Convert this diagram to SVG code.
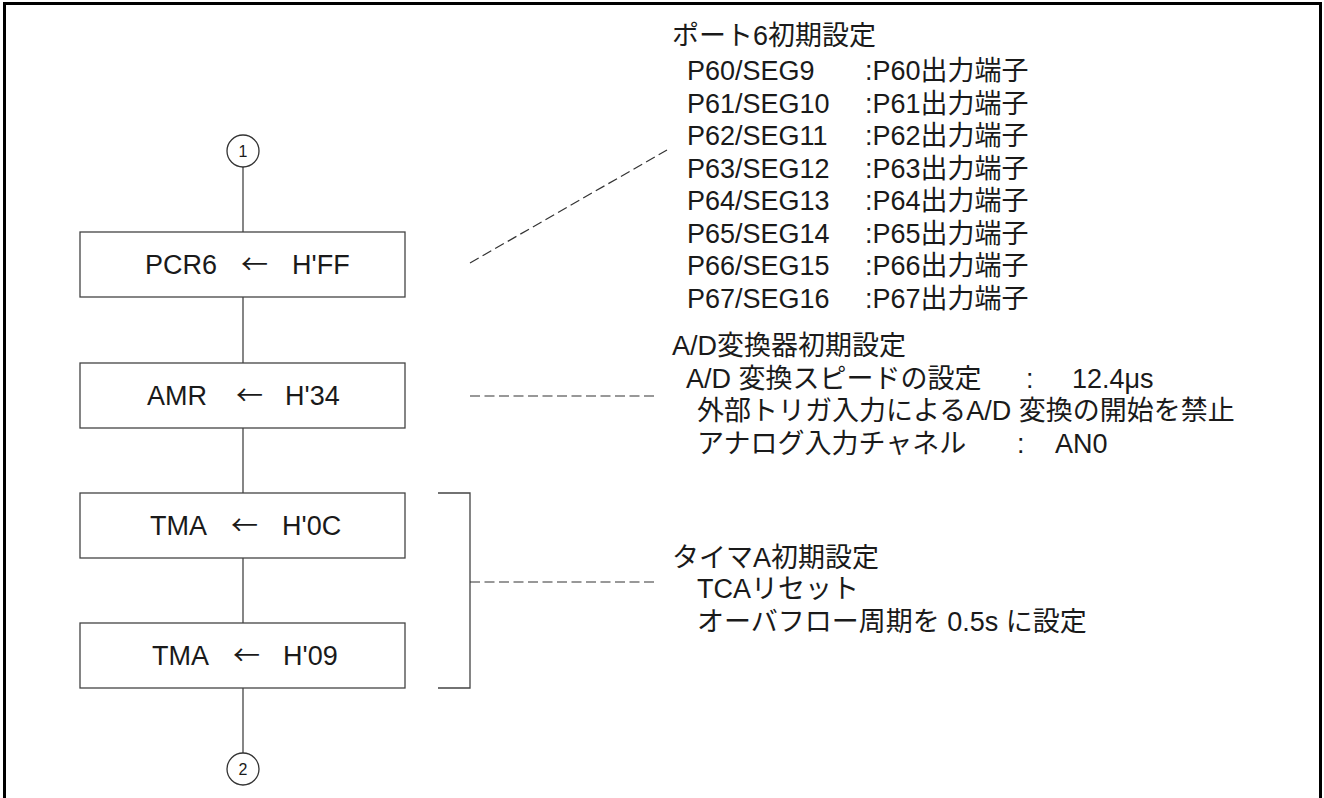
<svg xmlns="http://www.w3.org/2000/svg" width="1324" height="798" viewBox="0 0 1324 798">
<style>
.frame{fill:none;stroke:#000;stroke-width:3}
.box{fill:#fff;stroke:#444;stroke-width:1.3}
.conn{fill:none;stroke:#444;stroke-width:1.3}
.dash{fill:none;stroke:#333;stroke-width:1.2;stroke-dasharray:10 4.5}
.bt{font-family:"Liberation Sans","Noto Sans CJK JP",sans-serif;font-size:27px;fill:#1a1a1a}
.ar{font-family:"Noto Sans CJK JP",sans-serif;font-size:27px;fill:#1a1a1a}
.ct{font-family:"Liberation Sans","Noto Sans CJK JP",sans-serif;font-size:16px;fill:#1a1a1a;text-anchor:middle}
.t{font-family:"Liberation Sans","Noto Sans CJK JP",sans-serif;font-size:27px;fill:#1a1a1a}
</style>
<rect class="frame" x="4.5" y="3.5" width="1316" height="820"/>
<g id="connectors">
<line class="conn" x1="243" y1="167" x2="243" y2="232"/>
<line class="conn" x1="243" y1="297" x2="243" y2="363"/>
<line class="conn" x1="243" y1="428" x2="243" y2="493"/>
<line class="conn" x1="243" y1="558" x2="243" y2="623"/>
<line class="conn" x1="243" y1="688" x2="243" y2="753"/>
<line class="dash" x1="470" y1="263" x2="667" y2="150"/>
<line class="dash" x1="470" y1="396" x2="658" y2="396"/>
<polyline class="conn" points="438,493 470,493 470,688 438,688"/>
<line class="dash" x1="470" y1="582" x2="658" y2="582"/>
</g>
<g id="start1">
<circle cx="243" cy="151" r="16" fill="#fff" stroke="#333" stroke-width="1.3"/>
<text class="ct" x="243" y="157">1</text>
</g>
<g id="pcr6">
<rect class="box" x="80" y="232" width="325" height="65"/>
<text class="bt" x="145" y="274">PCR6</text><text class="ar" x="241" y="274">←</text><text class="bt" x="292" y="274">H'FF</text>
</g>
<g id="amr">
<rect class="box" x="80" y="363" width="325" height="65"/>
<text class="bt" x="147" y="405">AMR</text><text class="ar" x="236" y="405">←</text><text class="bt" x="285" y="405">H'34</text>
</g>
<g id="tma1">
<rect class="box" x="80" y="493" width="325" height="65"/>
<text class="bt" x="150" y="535">TMA</text><text class="ar" x="231" y="535">←</text><text class="bt" x="282" y="535">H'0C</text>
</g>
<g id="tma2">
<rect class="box" x="80" y="623" width="325" height="65"/>
<text class="bt" x="152" y="665">TMA</text><text class="ar" x="233" y="665">←</text><text class="bt" x="283" y="665">H'09</text>
</g>
<g id="end2">
<circle cx="243" cy="769" r="16" fill="#fff" stroke="#333" stroke-width="1.3"/>
<text class="ct" x="243" y="775">2</text>
</g>
<g id="note-port6">
<text class="t" x="672" y="45">ポート6初期設定</text>
<text class="t" x="687" y="80">P60/SEG9</text>
<text class="t" x="687" y="112.5">P61/SEG10</text>
<text class="t" x="687" y="145">P62/SEG11</text>
<text class="t" x="687" y="177.5">P63/SEG12</text>
<text class="t" x="687" y="210">P64/SEG13</text>
<text class="t" x="687" y="242.5">P65/SEG14</text>
<text class="t" x="687" y="275">P66/SEG15</text>
<text class="t" x="687" y="307.5">P67/SEG16</text>
<text class="t" x="865" y="80">:P60出力端子</text>
<text class="t" x="865" y="112.5">:P61出力端子</text>
<text class="t" x="865" y="145">:P62出力端子</text>
<text class="t" x="865" y="177.5">:P63出力端子</text>
<text class="t" x="865" y="210">:P64出力端子</text>
<text class="t" x="865" y="242.5">:P65出力端子</text>
<text class="t" x="865" y="275">:P66出力端子</text>
<text class="t" x="865" y="307.5">:P67出力端子</text>
</g>
<g id="note-ad">
<text class="t" x="672" y="355">A/D変換器初期設定</text>
<text class="t" x="686" y="388">A/D 変換スピードの設定</text>
<text class="t" x="1026" y="388">:</text>
<text class="t" x="1072" y="388">12.4μs</text>
<text class="t" x="697" y="420">外部トリガ入力によるA/D 変換の開始を禁止</text>
<text class="t" x="697" y="453">アナログ入力チャネル</text>
<text class="t" x="1017" y="453">:</text>
<text class="t" x="1055" y="453">AN0</text>
</g>
<g id="note-tma">
<text class="t" x="672" y="567">タイマA初期設定</text>
<text class="t" x="697" y="598">TCAリセット</text>
<text class="t" x="697" y="631">オーバフロー周期を 0.5s に設定</text>
</g>
</svg>
